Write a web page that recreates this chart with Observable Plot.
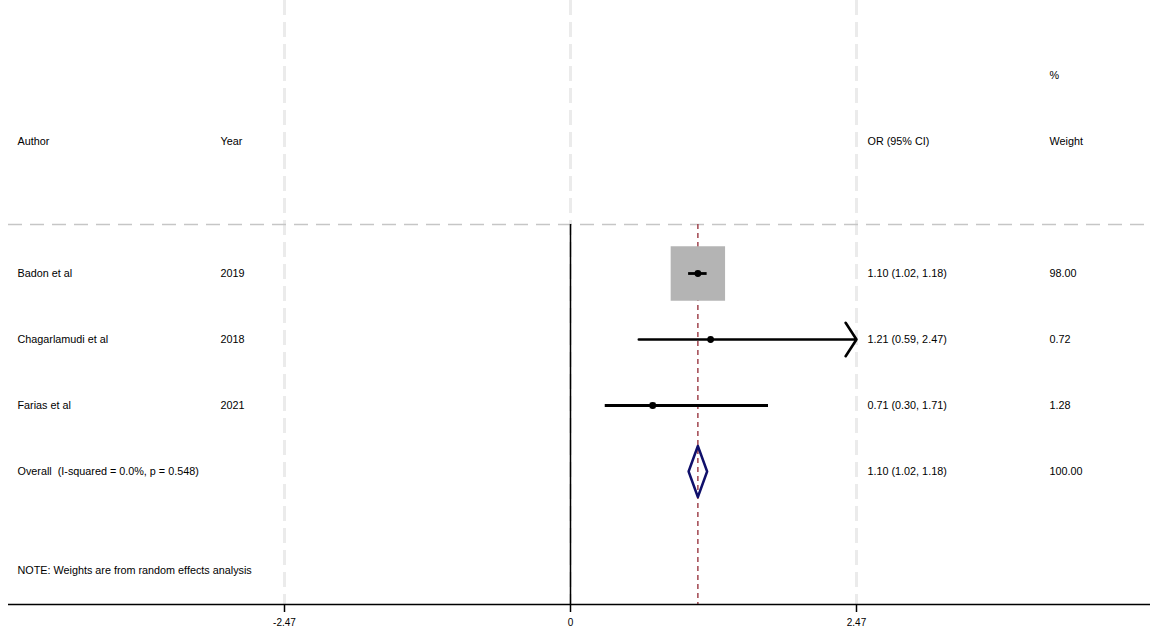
<!DOCTYPE html>
<html>
<head>
<meta charset="utf-8">
<script src="https://cdn.jsdelivr.net/npm/d3@7"></script>
<script src="https://cdn.jsdelivr.net/npm/@observablehq/plot@0.6"></script>
<style>
  html, body { margin: 0; padding: 0; background: #fff; }
  #chart svg { display: block; }
</style>
</head>
<body>
<div id="chart"></div>
<script>
// Study-level results (odds ratios with 95% CI, random-effects weights)
const authors = ["Badon et al", "Chagarlamudi et al", "Farias et al"];
const years = [2019, 2018, 2021];
const orValues = [1.10, 1.21, 0.71];
const ciLower = [1.02, 0.59, 0.30];
const ciUpper = [1.18, 2.47, 1.71];
const weights = [98.00, 0.72, 1.28];

// Pooled estimate
const overallLabel = "Overall  (I-squared = 0.0%, p = 0.548)";
const overallOR = 1.10;
const overallLower = 1.02;
const overallUpper = 1.18;
const overallWeight = 100.00;

// Column headers, axis ticks and footnote
const headers = ["Author", "Year", "OR (95% CI)", "Weight"];
const weightHeaderTop = "%";
const xTicks = [-2.47, 0, 2.47];
const note = "NOTE: Weights are from random effects analysis";

// ---- layout (rows in row units, columns in x units) ----
const W = 1152, H = 633;
const mLeft = 8, mRight = 2, mTop = 0, mBottom = 29;
const pxPerUnit = 286 / 2.47;           // distance between 0 and 2.47 ticks
const zeroPx = 570;
const xDomain = [(mLeft - zeroPx) / pxPerUnit, (W - mRight - zeroPx) / pxPerUnit];
const pxX = (p) => (p - zeroPx) / pxPerUnit;   // pixel column -> x units

const rowPx = 66, headerPx = 141;
const yBottom = (H - mBottom - headerPx) / rowPx;   // axis baseline row
const yTop = (mTop - headerPx) / rowPx;
const sepRow = (224 - headerPx) / rowPx;
const halfDiamond = 0.386;

const colAuthor = pxX(17), colYear = pxX(220), colOR = pxX(867), colWeight = pxX(1049);
const textSize = 10.8;

const fmt2 = d3.format(".2f");
const studies = authors.map((a, i) => ({
  author: a, year: years[i], or: orValues[i], lo: ciLower[i], hi: ciUpper[i],
  weight: weights[i], row: 2 + i,
  label: `${fmt2(orValues[i])} (${fmt2(ciLower[i])}, ${fmt2(ciUpper[i])})`
}));
const overallRow = 2 + authors.length;
const overall = {
  or: overallOR, lo: overallLower, hi: overallUpper, weight: overallWeight, row: overallRow,
  label: `${fmt2(overallOR)} (${fmt2(overallLower)}, ${fmt2(overallUpper)})`
};
const noteRow = overallRow + 1.5;
const xMax = d3.max(xTicks);

const clipped = studies.filter(d => d.hi >= xMax);
const unclipped = studies.filter(d => d.hi < xMax);

const diamond = [
  {x: overall.lo, y: overall.row},
  {x: overall.or, y: overall.row - halfDiamond},
  {x: overall.hi, y: overall.row},
  {x: overall.or, y: overall.row + halfDiamond},
  {x: overall.lo, y: overall.row}
];

const tableText = [
  {t: headers[0], x: colAuthor, row: 0},
  {t: headers[1], x: colYear, row: 0},
  ...studies.map(d => ({t: d.author, x: colAuthor, row: d.row})),
  ...studies.map(d => ({t: String(d.year), x: colYear, row: d.row})),
  {t: overallLabel, x: colAuthor, row: overallRow},
  {t: note, x: colAuthor, row: noteRow},
  {t: headers[2], x: colOR, row: 0},
  {t: headers[3], x: colWeight, row: 0},
  {t: weightHeaderTop, x: colWeight, row: -1},
  ...studies.map(d => ({t: d.label, x: colOR, row: d.row})),
  ...studies.map(d => ({t: fmt2(d.weight), x: colWeight, row: d.row})),
  {t: overall.label, x: colOR, row: overallRow},
  {t: fmt2(overall.weight), x: colWeight, row: overallRow}
];

// tick labels with a plain hyphen for negatives
const tickFmt = d => d === 0 ? "0" : d3.format(".2f")(d).replace("\u2212", "-");

const chart = Plot.plot({
  width: W, height: H,
  marginLeft: mLeft, marginRight: mRight, marginTop: mTop, marginBottom: mBottom,
  style: {fontFamily: "'Liberation Sans', Arial, sans-serif", fontSize: "10px", background: "#fff", color: "#000"},
  x: {domain: xDomain, axis: null},
  y: {domain: [yBottom, yTop], axis: null},
  r: {type: "sqrt", domain: [0, 100], range: [0, 31]},
  marks: [
    // light dashed reference lines at each tick
    Plot.ruleX(xTicks, {y1: yTop, y2: yBottom, stroke: "#ebebeb", strokeWidth: 3, strokeDasharray: "15,7"}),
    // separator under the header
    Plot.ruleY([sepRow], {stroke: "#c6c6c6", strokeWidth: 1.5, strokeDasharray: "14,8"}),
    // null line
    Plot.ruleX([0], {y1: sepRow, y2: yBottom, stroke: "#000", strokeWidth: 1.5}),
    // pooled estimate line
    Plot.ruleX([overall.or], {y1: sepRow, y2: yBottom, stroke: "#a1444e", strokeWidth: 1.5, strokeDasharray: "5,4"}),
    // weight boxes
    Plot.dot(studies, {x: "or", y: "row", r: "weight", symbol: "square", fill: "#b4b4b4", stroke: null}),
    // confidence intervals
    Plot.ruleY(unclipped, {y: "row", x1: "lo", x2: "hi", stroke: "#000", strokeWidth: 2.8}),
    Plot.arrow(clipped, {x1: "lo", x2: "hi", y1: "row", y2: "row", stroke: "#000", strokeWidth: 2.6, headLength: 11.5, headAngle: 114}),
    // point estimates
    Plot.dot(studies, {x: "or", y: "row", r: 3.4, fill: "#000", stroke: null}),
    // pooled diamond
    Plot.line(diamond, {x: "x", y: "y", stroke: "#10106b", strokeWidth: 2.5, curve: "linear"}),
    // text columns
    Plot.text(tableText, {x: "x", y: "row", text: "t", textAnchor: "start", lineAnchor: "middle", fill: "#000", fontSize: textSize}),
    // x axis
    Plot.ruleY([yBottom], {stroke: "#000", strokeWidth: 1.5}),
    Plot.axisX({ticks: xTicks, tickSize: 8, tickPadding: 6, tickFormat: tickFmt, fontSize: 10, strokeWidth: 1.5, stroke: "#000", color: "#000"})
  ]
});
document.getElementById("chart").append(chart);
</script>
</body>
</html>
